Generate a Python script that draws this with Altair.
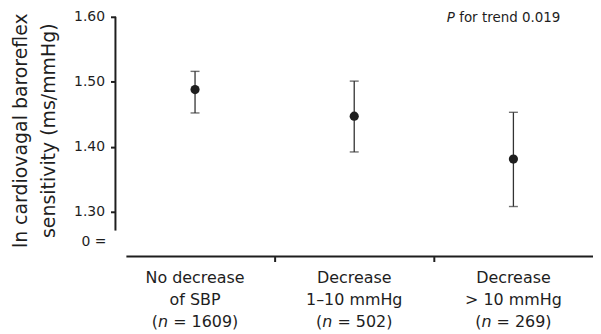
import altair as alt
import pandas as pd

# ---- data ----
groups = ["No decrease of SBP", "Decrease 1–10 mmHg", "Decrease > 10 mmHg"]
line1 = ["No decrease", "Decrease", "Decrease"]
line2 = ["of SBP", "1–10 mmHg", "> 10 mmHg"]
n_values = [1609, 502, 269]
means = [1.488, 1.447, 1.381]
lower = [1.452, 1.392, 1.308]
upper = [1.516, 1.501, 1.453]
y_ticks = [1.30, 1.40, 1.50, 1.60]
y_axis_bottom = 1.271
y_min, y_max = 1.231, 1.60
p_text = "for trend 0.019"

FONT = "DejaVu Sans"
INK = "#1e1e1e"
FS = 16
W, H = 480, 241
HALF_BAND = W / len(groups) / 2

# offsets for the third label line, so that "n" can be set in italic
w_open = 0.390 * FS
w_n = 0.634 * FS
w_space = 0.318 * FS
def rest_w(n):
    return (0.318 + 0.838 + 0.318 + 0.636 * len(str(n)) + 0.390) * FS
totals = [w_open + w_n + rest_w(n) for n in n_values]

df = pd.DataFrame({
    "group": groups,
    "mean": means,
    "lo": lower,
    "hi": upper,
    "l1": line1,
    "l2": line2,
    "rest": [f"= {n})" for n in n_values],
    "o_open": [HALF_BAND - t / 2 for t in totals],
    "o_n": [HALF_BAND - t / 2 + w_open for t in totals],
    "o_rest": [HALF_BAND - t / 2 + w_open + w_n + w_space for t in totals],
})

xscale = alt.Scale(type="band", domain=groups, paddingInner=0, paddingOuter=0)
yscale = alt.Scale(domain=[y_min, y_max], nice=False, zero=False)

x_enc = alt.X(
    "group:N", scale=xscale, sort=groups,
    axis=alt.Axis(values=groups[1:], bandPosition=0, labels=False, domain=False,
                  ticks=True, tickSize=5, tickWidth=2, tickColor=INK, title=None, grid=False),
)
y_enc = alt.Y(
    "mean:Q", scale=yscale,
    axis=alt.Axis(values=y_ticks, format=".2f", domain=False, grid=False,
                  tickSize=5, tickWidth=2, tickColor=INK,
                  labelFont=FONT, labelFontSize=14, labelColor=INK, labelPadding=6,
                  title=["ln cardiovagal baroreflex", "sensitivity (ms/mmHg)"],
                  titleFont=FONT, titleFontSize=19, titleFontWeight="normal", titleColor=INK,
                  titleAngle=270, titleX=-95, titleY=114, titleAlign="center",
                  titleBaseline="middle", titleLineHeight=28),
)

base = alt.Chart(df)

points = base.mark_point(filled=True, size=85, color=INK, opacity=1).encode(x=x_enc, y=y_enc)
bars = base.mark_rule(color="#333333", strokeWidth=1.3).encode(
    x=alt.X("group:N", scale=xscale, sort=groups), y=alt.Y("lo:Q", scale=yscale), y2="hi:Q")
cap_lo = base.mark_tick(color="#333333", size=9, thickness=1.4).encode(
    x=alt.X("group:N", scale=xscale, sort=groups), y=alt.Y("lo:Q", scale=yscale))
cap_hi = base.mark_tick(color="#333333", size=9, thickness=1.4).encode(
    x=alt.X("group:N", scale=xscale, sort=groups), y=alt.Y("hi:Q", scale=yscale))

# axis lines (broken style)
yaxis_df = pd.DataFrame({"top": [y_max], "bot": [y_axis_bottom]})
y_line = alt.Chart(yaxis_df).mark_rule(color=INK, strokeWidth=2).encode(
    x=alt.value(0), y=alt.Y("top:Q", scale=yscale), y2="bot:Q")
x_line = alt.Chart(yaxis_df).mark_rule(color=INK, strokeWidth=2).encode(
    x=alt.value(11), x2=alt.value(W), y=alt.value(H))
zero_lbl = alt.Chart(yaxis_df).mark_text(font=FONT, fontSize=14, color=INK, align="right",
                                         baseline="middle").encode(
    x=alt.value(-9), y=alt.value(226), text=alt.value("0 ="))

# category labels
lab_kw = dict(font=FONT, fontSize=FS, color=INK, baseline="middle")
xl = alt.X("group:N", scale=xscale, sort=groups)
lab1 = base.mark_text(align="center", **lab_kw).encode(x=xl, y=alt.value(263), text="l1:N")
lab2 = base.mark_text(align="center", **lab_kw).encode(x=xl, y=alt.value(285), text="l2:N")
lab3a = base.mark_text(align="left", **lab_kw).encode(
    x=xl, xOffset=alt.XOffset("o_open:Q", scale=None), y=alt.value(307), text=alt.value("("))
lab3b = base.mark_text(align="left", fontStyle="italic", **lab_kw).encode(
    x=xl, xOffset=alt.XOffset("o_n:Q", scale=None), y=alt.value(307), text=alt.value("n"))
lab3c = base.mark_text(align="left", **lab_kw).encode(
    x=xl, xOffset=alt.XOffset("o_rest:Q", scale=None), y=alt.value(307), text="rest:N")

# P for trend annotation
p_it = alt.Chart(yaxis_df).mark_text(font=FONT, fontSize=13.5, fontStyle="italic", color=INK,
                                     align="left", baseline="middle").encode(
    x=alt.value(333), y=alt.value(1), text=alt.value("P"))
p_rest = alt.Chart(yaxis_df).mark_text(font=FONT, fontSize=13.5, color=INK,
                                       align="left", baseline="middle").encode(
    x=alt.value(345.5), y=alt.value(1), text=alt.value(p_text))

chart = alt.layer(
    bars, cap_lo, cap_hi, points, y_line, x_line, zero_lbl,
    lab1, lab2, lab3a, lab3b, lab3c, p_it, p_rest,
).properties(
    width=W, height=H,
    autosize=alt.AutoSizeParams(type="none"),
    padding={"left": 108, "top": 8, "right": 0, "bottom": 76},
    background="white",
).configure_view(stroke=None)

chart.save("out.html", embed_options={"renderer": "svg", "actions": False})
